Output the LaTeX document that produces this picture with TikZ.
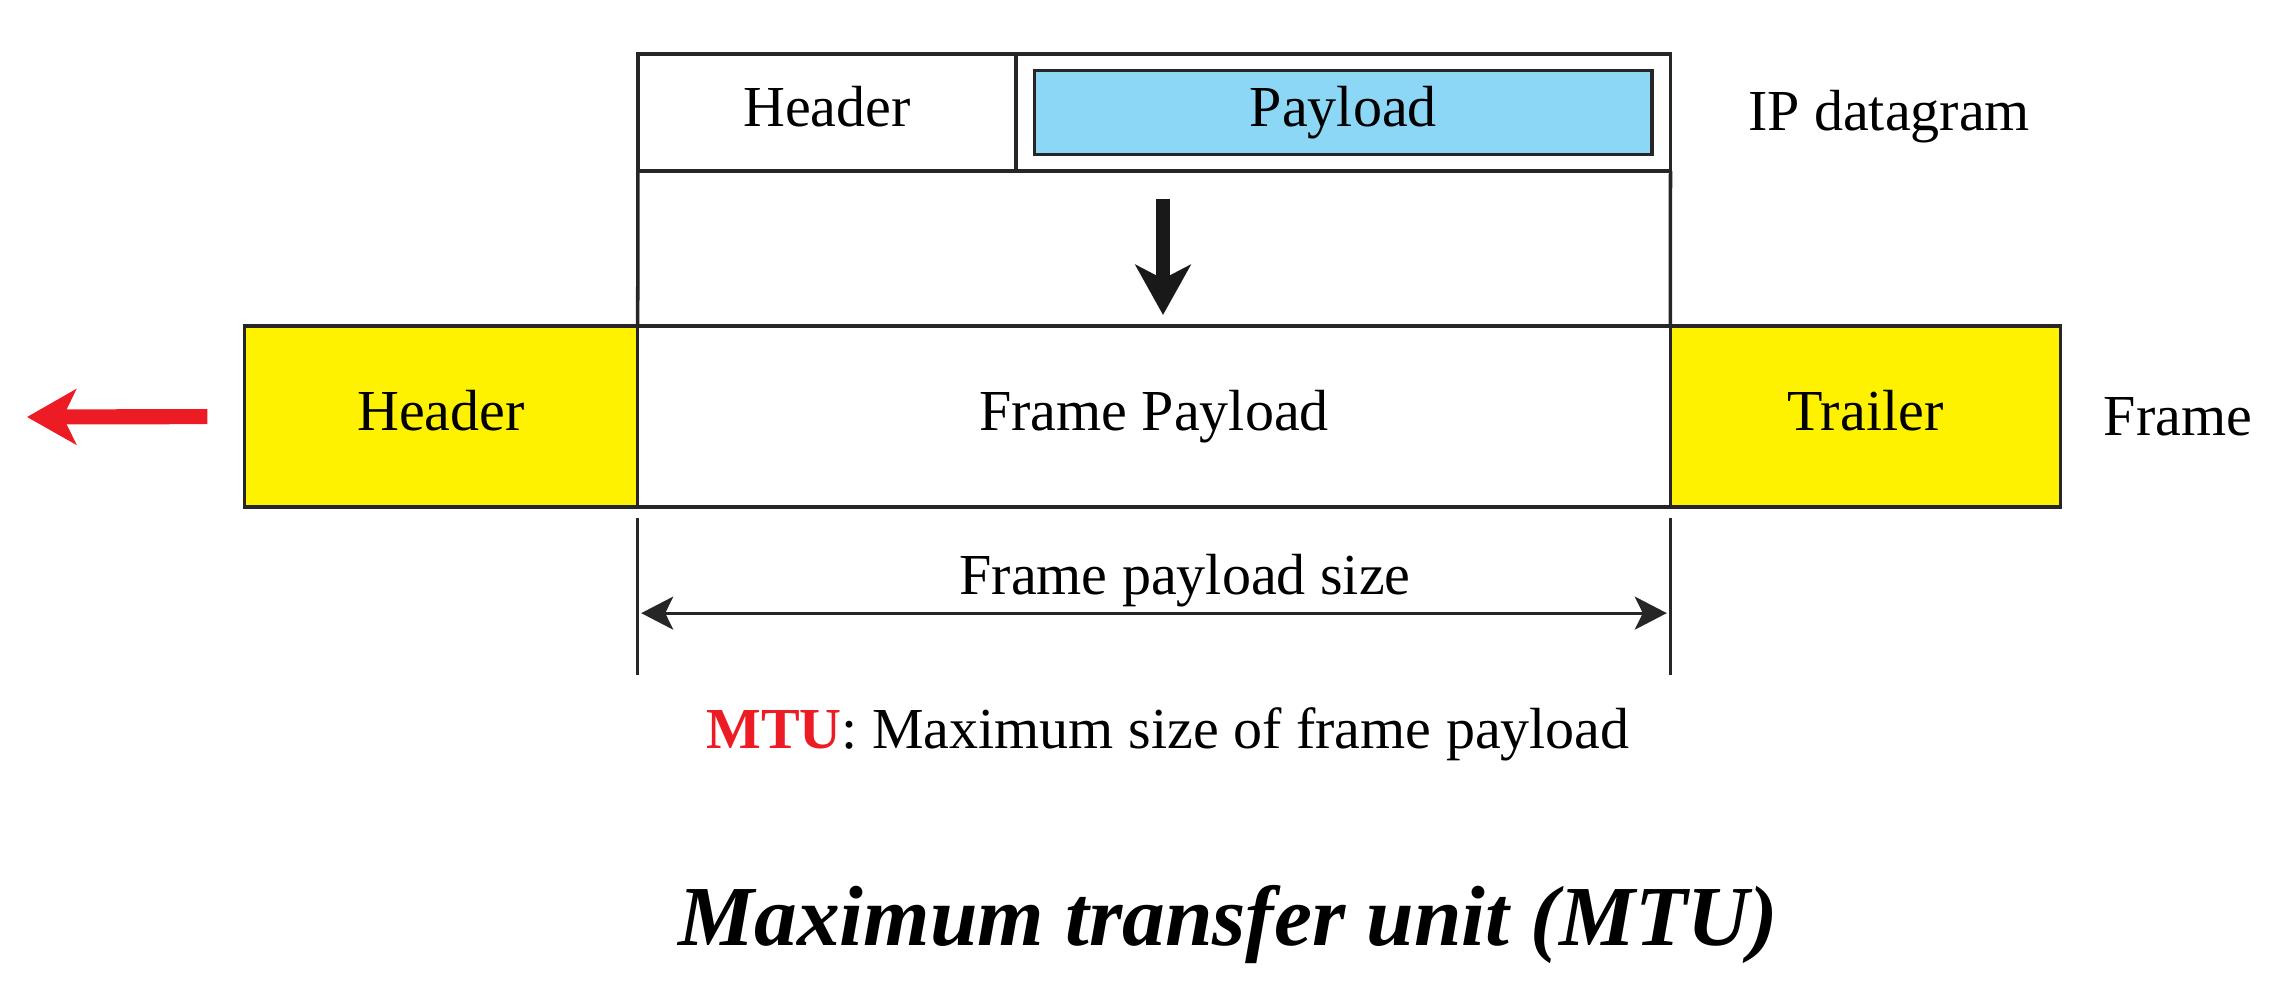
\documentclass[tikz,border=0pt]{standalone}
\usepackage{fontspec}
\setmainfont{Liberation Serif}
\usetikzlibrary{arrows.meta, positioning}
\definecolor{mtuyellow}{RGB}{255,242,0}
\definecolor{mtublue}{RGB}{141,215,246}
\definecolor{mtured}{RGB}{237,28,36}

\begin{document}
\begin{tikzpicture}[
    x=0.01cm, y=-0.01cm,
    txt/.style={inner sep=0pt, font=\fontsize{16.5}{19}\selectfont},
    cell/.style={rectangle, draw=black!85, line width=1pt, outer sep=0pt, inner sep=0pt,
                 font=\fontsize{16.5}{19}\selectfont, text height=11.5pt, text depth=3.3pt},
    side/.style={draw=black!85, line width=1pt},
    frm/.style={cell, minimum height=1.81cm},
    dg/.style={cell, minimum height=1.17cm},
    down/.style={-{Stealth[length=0.5cm, width=0.55cm, inset=0.14cm]}, line width=4pt, black!90},
    outarr/.style={-{Stealth[length=0.49cm, width=0.55cm, inset=0.13cm]}, line width=4.3pt, mtured},
    dim/.style={line width=0.8pt, black!85},
]
    \useasboundingbox (0,0) rectangle (2291,999);

    % frame
    \node[frm, minimum width=10.32cm] (fpay) at (1154,416.5) {Frame Payload};
    \node[frm, fill=mtuyellow, minimum width=3.93cm, left=0pt of fpay] (fhdr) {Header};
    \node[frm, fill=mtuyellow, minimum width=3.90cm, right=0pt of fpay] (ftrl) {Trailer};
    \node[txt, anchor=base] (frmlbl) at (2178,435) {Frame};

    % IP datagram
    \node[dg, minimum width=3.78cm] (dghdr) at (827,112.5) {Header};
    \node[dg, minimum width=6.54cm, right=0pt of dghdr] (dgpay) {};
    \node[cell, fill=mtublue, minimum width=6.17cm, minimum height=0.84cm] (dgdata)
        at (dgpay.center) {Payload};
    \node[txt, anchor=base] (dglbl) at (1889,130) {IP datagram};

    \draw[side] (dghdr.south west) -- (fpay.north west);
    \draw[side] (dgpay.south east) -- (fpay.north east);
    \draw[down, shorten <=0.28cm, shorten >=0.11cm]
        ([xshift=0.09cm]dghdr.south -| fpay.north) -- ([xshift=0.09cm]fpay.north);

    \coordinate (away) at (27,417);
    \draw[outarr, shorten <=0.37cm] (fhdr.west) -- (away);

    % payload size
    \coordinate (dl) at ([yshift=-1.68cm]fpay.south west);
    \coordinate (dr) at ([yshift=-1.68cm]fpay.south east);
    \draw[dim, shorten <=0.11cm] (fpay.south west) -- (dl);
    \draw[dim, shorten <=0.11cm] (fpay.south east) -- (dr);
    \coordinate (al) at ([yshift=-1.06cm]fpay.south west);
    \coordinate (ar) at ([yshift=-1.06cm]fpay.south east);
    \draw[dim, {Stealth[length=0.32cm, width=0.33cm, inset=0.08cm]}-{Stealth[length=0.32cm, width=0.33cm, inset=0.08cm]},
          shorten <=1pt, shorten >=1pt] (al) -- (ar);
    \node[txt, anchor=base] (sizelbl) at (1185,594) {Frame payload size};

    \node[txt, anchor=base] (mtulbl) at (1168,748)
        {\textcolor{mtured}{\textbf{MTU}}: Maximum size of frame payload};

    \node[inner sep=0pt, anchor=base, font=\fontsize{24.3}{28}\selectfont\bfseries\itshape] (title)
        at (1228,945) {Maximum transfer unit (MTU)};
\end{tikzpicture}
\end{document}
